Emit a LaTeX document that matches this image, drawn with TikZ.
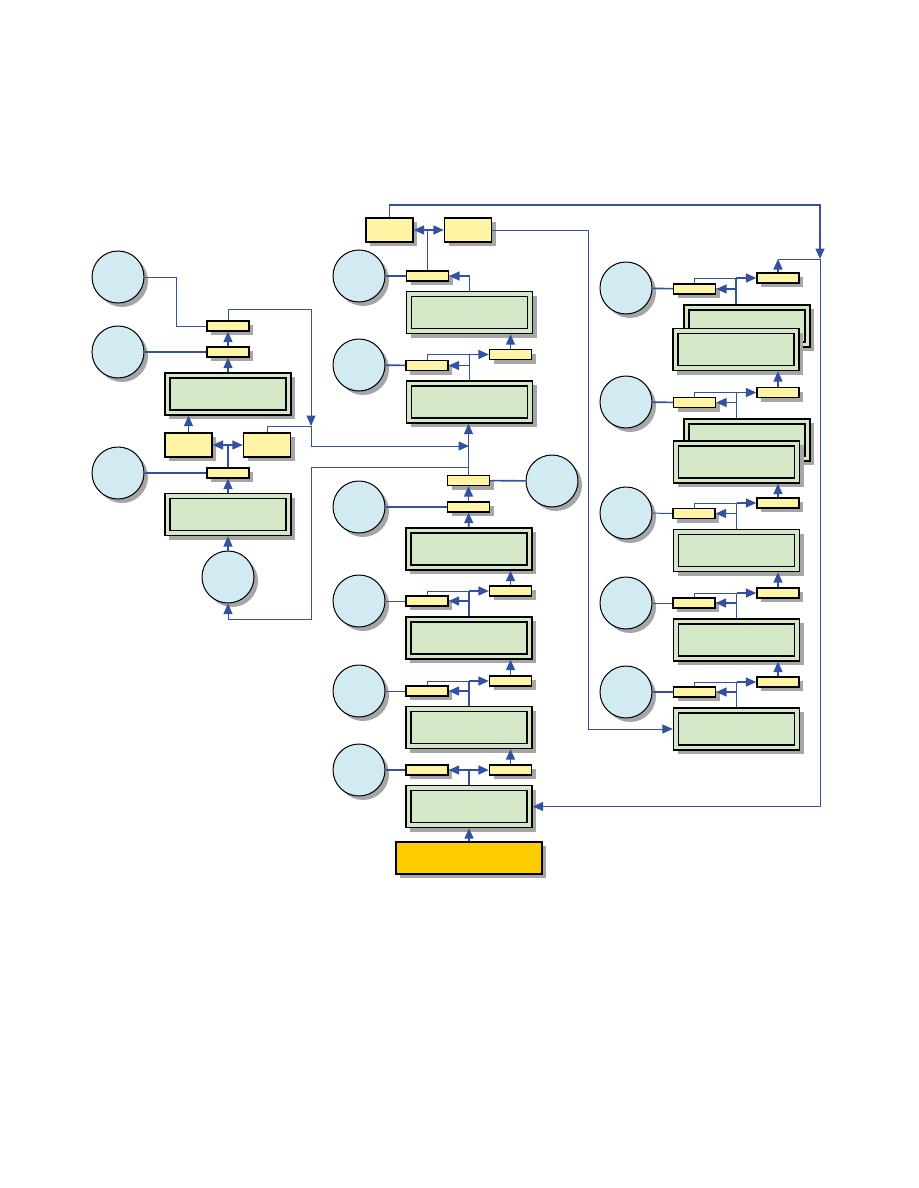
\documentclass[tikz,border=0pt]{standalone}
\usepackage{xcolor}
\usepackage{tikz}
\usetikzlibrary{arrows.meta,positioning,shadows}

\definecolor{menublue}{HTML}{D2EAF2}
\definecolor{keyyellow}{HTML}{FFF4A3}
\definecolor{lcdgreen}{HTML}{D4E7C6}
\definecolor{startorange}{HTML}{FFCC00}
\definecolor{linkblue}{HTML}{3450A0}
\definecolor{shadowgray}{HTML}{A6A6A6}

\begin{document}
\begin{tikzpicture}[x=1pt, y=-1pt, >={Triangle[length=10.5pt,width=9pt]},
  box/.style={draw, inner sep=0pt, line width=1.3pt, drop shadow={shadow xshift=4pt, shadow yshift=-4pt, fill=shadowgray, opacity=1}},
  key/.style={box, fill=keyyellow, minimum width=42pt, minimum height=10pt},
  softkey/.style={box, fill=keyyellow, minimum width=47pt, minimum height=24pt},
  menu/.style={box, circle, fill=menublue, minimum size=52pt, line width=1pt},
  lcd/.style={box, fill=lcdgreen, minimum width=126pt, minimum height=42pt,
    path picture={\draw[line width=1.3pt] ([xshift=5pt,yshift=-5pt]path picture bounding box.north west) rectangle ([xshift=-5pt,yshift=5pt]path picture bounding box.south east);}},
  start/.style={box, fill=startorange, minimum width=146pt, minimum height=32pt},
  link/.style={draw=linkblue, line width=1.6pt},
  thinlink/.style={draw=linkblue, line width=1pt}]
\useasboundingbox (0,0) rectangle (918,1188);

% left column
\node[menu] (m1) at (118,277) {};
\node[menu] (m2) at (118,352) {};
\node[menu] (m3) at (118,473) {};
\node[menu] (m4) at (228,577) {};
\node[key] (k1) at (228,326) {};
\node[key] (k2) at (228,352) {};
\node[lcd] (d1) at (228,394) {};
\node[softkey] (s1) at (188.5,445) {};
\node[softkey] (s2) at (267,445) {};
\node[key] (k3) at (228,473) {};
\node[lcd] (d2) at (228,514.5) {};

% middle column
\node[softkey] (s3) at (389.5,230) {};
\node[softkey] (s4) at (468,230) {};
\node[menu] (m5) at (359,276) {};
\node[key] (k4) at (427.5,276) {};
\node[lcd] (d3) at (469.5,312.5) {};
\node[key] (k5) at (510.5,354.5) {};
\node[menu] (m6) at (359,365) {};
\node[key] (k6) at (427,365.5) {};
\node[lcd] (d4) at (469.5,402) {};
\node[key] (k7) at (468.5,480.5) {};
\node[menu] (m7) at (552,481) {};
\node[menu] (m8) at (359,507) {};
\node[key] (k8) at (468.5,507) {};
\node[lcd] (d5) at (469,549) {};
\node[key] (k9) at (510.5,591) {};
\node[menu] (m9) at (359,601) {};
\node[key] (k10) at (427,601) {};
\node[lcd] (d6) at (469,638) {};
\node[key] (k11) at (510.5,681) {};
\node[menu] (m10) at (359,691) {};
\node[key] (k12) at (427,691) {};
\node[lcd] (d7) at (469,727.5) {};
\node[key] (k13) at (510.5,770) {};
\node[menu] (m11) at (359,770) {};
\node[key] (k14) at (427,770) {};
\node[lcd] (d8) at (469,806.5) {};
\node[start] (home) at (469,858) {};

% right column
\node[menu] (m12) at (626,288) {};
\node[key] (k15) at (694.5,289) {};
\node[key] (k16) at (778,278) {};
\node[lcd] (d9b) at (747,326) {};
\node[lcd] (d9) at (736,349.5) {};
\node[key] (k17) at (778,392.5) {};
\node[menu] (m13) at (626,402) {};
\node[key] (k18) at (694.5,402.5) {};
\node[lcd] (d10b) at (747,440) {};
\node[lcd] (d10) at (736.5,462) {};
\node[key] (k19) at (778,503) {};
\node[menu] (m14) at (626,513) {};
\node[key] (k20) at (694,513.5) {};
\node[lcd] (d11) at (736.5,550.5) {};
\node[key] (k21) at (778,593) {};
\node[menu] (m15) at (626,603) {};
\node[key] (k22) at (694,603) {};
\node[lcd] (d12) at (736.5,640) {};
\node[key] (k23) at (778,682) {};
\node[menu] (m16) at (626,692) {};
\node[key] (k24) at (694.5,692) {};
\node[lcd] (d13) at (736.5,729) {};

\coordinate (j1) at (311,426);
\coordinate (j2) at (820,259);
\coordinate (j3) at (820,205);
\coordinate (j4) at (469,446);
\coordinate (j5) at (311,467);
\coordinate (j6) at (311,619);
\coordinate (t9) at (d9.north |- d9b.north);
\coordinate (t10) at (d10.north |- d10b.north);

% left column links
\draw[thinlink] (m1.east) -- ++(32,0) |- (k1.west);
\draw[link] (m2.east) -- (k2.west); \draw[link] (m3.east) -- (k3.west);
\draw[link,->] (k2) -- (k1); \draw[link,->] (d1) -- (k2);
\draw[link,->] (s1.north) -- (s1.north |- d1.south);
\draw[link] (k3.north) -- (k3.north |- s1.east); \draw[link,<->] (s1) -- (s2);
\draw[link,->] (d2) -- (k3); \draw[link,->] (m4) -- (d2);
\draw[thinlink,->] (k1.north) -- ++(0,-11) -| (j1);
\draw[thinlink] (j1) -| (s2.north);
\draw[thinlink,->] (j1) |- (j4);
\draw[thinlink,->] (k7.north |- j5) -- (j5) -- (j6) -| (m4.south);

% middle column links
\draw[link,->] (s3.north) |- (j3) -- (j2);
\draw[link,->] (k16.north) -- (k16.north |- j2);
\draw[thinlink,->] (k16.north |- j2) -- (j2) |- (d8.east);
\draw[thinlink,->] (s4.east) -- ++(96,0) |- (d13.west);
\draw[thinlink] (k4.north) -- (k4.north |- s3.east); \draw[link,<->] (s3) -- (s4);
\draw[link] (m5) -- (k4); \draw[link,->] (d3.north) |- (k4.east);
\draw[link,->] (k5) -- (k5 |- d3.south);
\draw[link] (m6) -- (k6);
\draw[link,->] (k7.north) -- (k7.north |- d4.south);
\draw[link] (k7) -- (m7); \draw[link] (m8) -- (k8);
\draw[link,->] (k8) -- (k7); \draw[link,->] (d5) -- (k8);
\draw[link,->] (k9) -- (k9 |- d5.south); \draw[thinlink] (m9) -- (k10);
\draw[link,->] (k11) -- (k11 |- d6.south); \draw[thinlink] (m10) -- (k12);
\draw[link,->] (k13) -- (k13 |- d7.south); \draw[link] (m11) -- (k14);
\draw[link] (d8.north) -- (d8.north |- k14.east); \draw[link,<->] (k14) -- (k13);
\draw[link,->] (home) -- (d8);

% right column links
\draw[link] (m12) -- (k15); \draw[link] (m13) -- (k18);
\draw[thinlink] (m14) -- (k20); \draw[thinlink] (m15) -- (k22); \draw[link] (m16) -- (k24);
\draw[link,->] (k17) -- (k17 |- d9.south);
\draw[link,->] (k19) -- (k19 |- d10.south);
\draw[link,->] (k21) -- (k21 |- d11.south);
\draw[link,->] (k23) -- (k23 |- d12.south);

% forks: display -> next key (right) and back key (left)
\foreach \top/\up/\side in {d4.north/k5/k6, d6.north/k9/k10, d7.north/k11/k12, t9/k16/k15, t10/k17/k18, d11.north/k19/k20, d12.north/k21/k22, d13.north/k23/k24} {
  \draw[link] (\top) -- (\top |- \up.west);
  \draw[link,->] (\top |- \up.west) -- (\up.west);
  \draw[thinlink] (\top |- \up.west) -| (\side.north);
  \draw[link,->] (\top |- \side.east) -- (\side.east);
}
\end{tikzpicture}
\end{document}
